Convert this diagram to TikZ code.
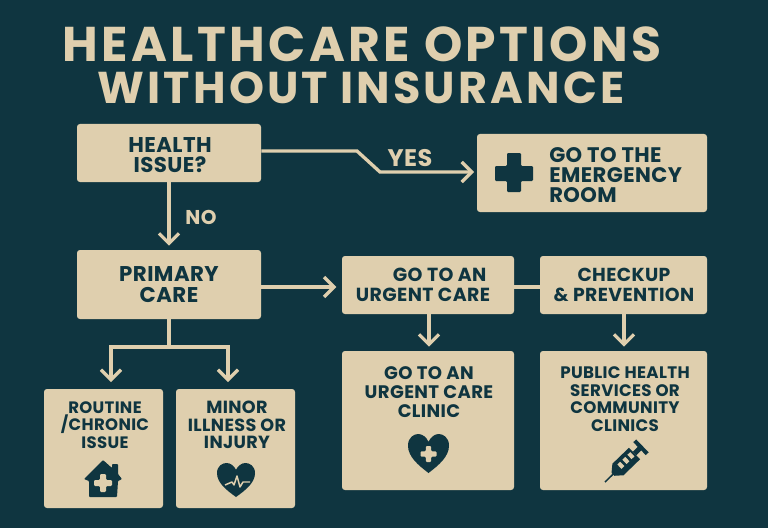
\documentclass[tikz,border=0pt]{standalone}
\usepackage{fontspec}
\setmainfont{Poppins}[BoldFont={Poppins Bold},LetterSpace=2]
\newfontfamily\titlefont{Poppins}[LetterSpace=7,UprightFont={* Bold}]
\usetikzlibrary{arrows.meta}
\definecolor{bg}{HTML}{0F3540}
\definecolor{cream}{HTML}{DFCFAE}
\tikzset{
 box/.style={fill=cream,rounded corners=2.2pt,inner sep=0pt,draw=none},
 lbl/.style={text=bg,align=center,inner sep=0pt},
 ttl/.style={text=cream,inner sep=0pt},
 edgel/.style={text=cream,inner sep=0pt},
 conn/.style={draw=cream,line width=2.5pt,line join=miter},
 arr/.style={conn,-{Straight Barb[length=7.5pt,width=15pt,line width=2.5pt]}},
}
\newcommand{\bx}[5]{\node[box,minimum width={(#4-#2)*0.75pt},minimum height={(#5-#3)*0.75pt}] (#1) at ({(#2+#4)/2},{(#3+#5)/2}) {};}
\newcommand{\crossicon}[4]{%
 \fill[#4,rounded corners=0.8pt] ({#1-#3},{#2-#3/3}) -- ({#1-#3/3},{#2-#3/3}) -- ({#1-#3/3},{#2-#3}) -- ({#1+#3/3},{#2-#3}) -- ({#1+#3/3},{#2-#3/3}) -- ({#1+#3},{#2-#3/3}) -- ({#1+#3},{#2+#3/3}) -- ({#1+#3/3},{#2+#3/3}) -- ({#1+#3/3},{#2+#3}) -- ({#1-#3/3},{#2+#3}) -- ({#1-#3/3},{#2+#3/3}) -- ({#1-#3},{#2+#3/3}) -- cycle;}
\newcommand{\hearticon}[5]{%
 \pgfmathsetmacro{\hw}{(#3-#1)/2}\pgfmathsetmacro{\hh}{#4-#2}\pgfmathsetmacro{\cx}{(#1+#3)/2}
 \fill[#5] (\cx,#4) .. controls ({\cx-0.5*\hw},{#2+0.8*\hh}) and (#1,{#2+0.58*\hh}) .. (#1,{#2+0.3*\hh})
  .. controls (#1,{#2+0.08*\hh}) and ({#1+0.3*\hw},#2) .. ({#1+0.5*\hw},#2)
  .. controls ({\cx-0.3*\hw},#2) and ({\cx-0.1*\hw},{#2+0.08*\hh}) .. (\cx,{#2+0.2*\hh})
  .. controls ({\cx+0.1*\hw},{#2+0.08*\hh}) and ({\cx+0.3*\hw},#2) .. ({\cx+0.5*\hw},#2)
  .. controls ({#3-0.3*\hw},#2) and (#3,{#2+0.08*\hh}) .. (#3,{#2+0.3*\hh})
  .. controls (#3,{#2+0.58*\hh}) and ({\cx+0.5*\hw},{#2+0.8*\hh}) .. (\cx,#4) -- cycle;}
\begin{document}
\begin{tikzpicture}[x=0.75pt,y=-0.75pt]
\fill[bg] (0,0) rectangle (768,528);
\useasboundingbox (0,0) rectangle (768,528);
% title
\node[ttl,font=\titlefont\fontsize{36.6}{36.6}\selectfont] (t1) at (362,44) {HEALTHCARE OPTIONS};
\node[ttl,font=\titlefont\fontsize{33.4}{33.4}\selectfont] (t2) at (361,88) {WITHOUT INSURANCE};
% boxes
\bx{health}{77}{124}{261}{182}
\bx{er}{477}{134}{707}{212}
\bx{primary}{77}{250}{261}{319}
\bx{urgent}{342}{256}{514}{314}
\bx{checkup}{540}{256}{707}{314}
\bx{clinic}{342}{351}{514}{490}
\bx{public}{540}{351}{707}{490}
\bx{routine}{44}{389}{163}{508}
\bx{minor}{176}{389}{295}{508}
% labels
\node[lbl,font=\bfseries\fontsize{16}{15}\selectfont] (lhealth) at (170,155) {HEALTH\\ISSUE?};
\node[lbl,font=\bfseries\fontsize{16}{15.8}\selectfont] (lprimary) at (169,285) {PRIMARY\\CARE};
\node[lbl,align=left,font=\bfseries\fontsize{15.8}{14.7}\selectfont,anchor=west] (ler) at (549,175) {GO TO THE\\EMERGENCY\\ROOM};
\node[lbl,font=\bfseries\fontsize{14.2}{15}\selectfont] (lurgent) at (423,285) {\hspace*{25pt}GO TO AN\\URGENT CARE};
\node[lbl,font=\bfseries\fontsize{14.1}{15}\selectfont] (lcheck) at (624,285) {CHECKUP\\\& PREVENTION};
\node[lbl,font=\bfseries\fontsize{13.6}{14}\selectfont] (lclinic) at (429,392) {GO TO AN\\URGENT CARE\\CLINIC};
\node[lbl,font=\bfseries\fontsize{12.5}{13.1}\selectfont] (lpublic) at (625,399) {PUBLIC HEALTH\\SERVICES OR\\COMMUNITY\\CLINICS};
\node[lbl,font=\bfseries\fontsize{12.4}{13.1}\selectfont] (lroutine) at (105,425) {ROUTINE\\/CHRONIC\\ISSUE};
\node[lbl,font=\bfseries\fontsize{13.2}{13.1}\selectfont] (lminor) at (237,425) {MINOR\\ILLNESS OR\\INJURY};
% connectors
\coordinate (yb1) at (357,151);
\coordinate (yb2) at (380,172);
\draw[arr] ([yshift=1.5pt]health.east) -- (yb1) -- (yb2) -- ([xshift=-2pt]er.west|-yb2);
\draw[arr] (health.south-|169,0) -- ([yshift=3pt]primary.north-|169,0);
\draw[arr] (primary.east|-0,287) -- ([xshift=-4pt]urgent.west|-0,287);
\draw[conn] (urgent.east|-0,287) -- (checkup.west|-0,287);
\draw[arr] (urgent.south-|429,0) -- ([yshift=3pt]clinic.north-|429,0);
\draw[arr] (checkup.south-|624,0) -- ([yshift=3pt]public.north-|624,0);
\coordinate (fork) at (169,347);
\draw[conn] (primary.south-|fork) -- (fork);
\draw[arr] (fork) -| ([yshift=5pt]routine.north-|111,0);
\draw[arr] (fork) -| ([yshift=5pt]minor.north-|228,0);
\node[edgel,font=\bfseries\fontsize{18}{18}\selectfont] (yes) at (410,158) {YES};
\node[edgel,font=\bfseries\fontsize{15}{15}\selectfont] (no) at (201,217) {NO};
% ER cross
\fill[bg,rounded corners=0.8pt] (495,166) -- (507,166) -- (507,153) -- (521,153) -- (521,166) -- (533,166) -- (533,181) -- (521,181) -- (521,192) -- (507,192) -- (507,181) -- (495,181) -- cycle;
% house
\fill[bg,rounded corners=0.6pt] (84,479) -- (103,460) -- (112,468) -- (112,464) -- (118,464) -- (118,474) -- (122,479) -- (118,481) -- (117,497) -- (89,497) -- (89,481) -- cycle;
\crossicon{103}{483}{9}{cream}
% heart pulse
\hearticon{217}{463}{255}{497}{bg}
\draw[cream,line width=1.1pt,line join=round] (225,485) -- (232,482) -- (234,485) -- (237,476) -- (240,487) -- (243,482) -- (250,482);
% heart plus
\hearticon{408}{434}{449}{473}{bg}
\crossicon{428.5}{454}{8}{cream}
% syringe
\begin{scope}[shift={(605,482)},rotate=44]
 \draw[bg,line width=1.1pt] (0,0) -- (13,0);
 \fill[bg] (11,-2) -- (18,-8) -- (41,-8) -- (41,8) -- (18,8) -- (11,2) -- cycle;
 \fill[cream] (21,-4) rectangle (25,2) (28,-4) rectangle (32,2) (35,-4) rectangle (39,2);
 \fill[bg] (41,-2.5) rectangle (50,2.5);
 \fill[bg] (48,-9) rectangle (52,9);
\end{scope}
\end{tikzpicture}
\end{document}
